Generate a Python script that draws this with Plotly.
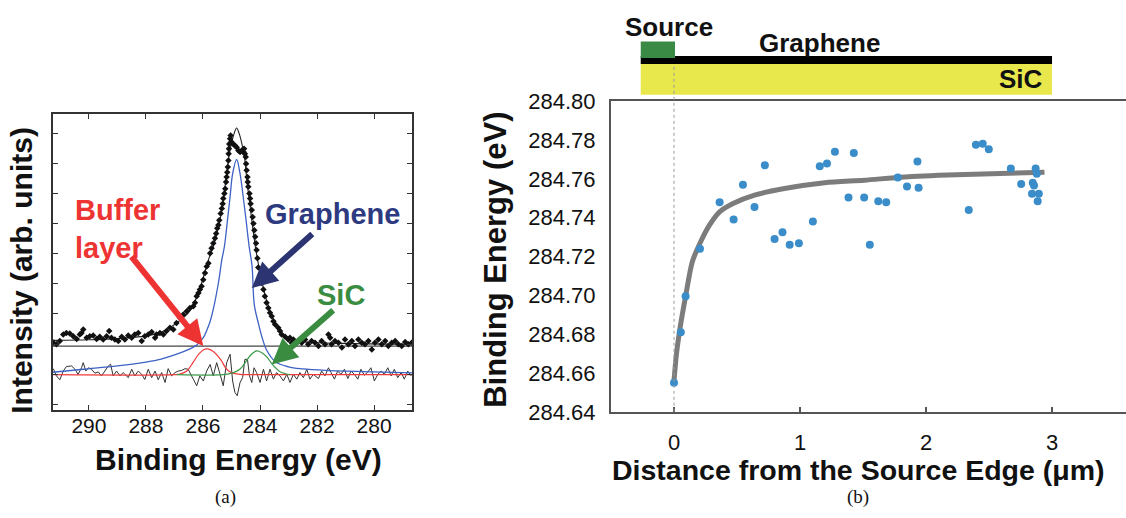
import plotly.graph_objects as go

W, H = 1126, 518

# ---------------- Panel (a): XPS C1s spectrum ----------------
spec_be = [291.25, 291.14, 291.02, 290.90, 290.79, 290.67, 290.55, 290.43, 290.32, 290.26, 290.20, 290.08,
           289.97, 289.85, 289.73, 289.62, 289.50, 289.38, 289.29, 289.21, 289.09, 288.97, 288.85, 288.74,
           288.62, 288.50, 288.39, 288.27, 288.15, 288.04, 287.92, 287.80, 287.68, 287.63, 287.51,
           287.39, 287.28, 287.16, 287.04, 286.93, 286.81, 286.69, 286.57, 286.46, 286.34, 286.28, 286.22,
           286.16, 286.11, 286.05, 285.99, 285.93, 285.87, 285.81,
           285.75, 285.70, 285.64, 285.58, 285.54, 285.50, 285.46, 285.43, 285.38, 285.34, 285.31, 285.29,
           285.25, 285.22, 285.19, 285.17, 285.15, 285.13, 285.11, 285.10, 285.09, 285.08, 285.05, 285.03,
           285.00, 284.94, 284.88, 284.82, 284.76, 284.70, 284.64, 284.58, 284.56, 284.53, 284.50, 284.49,
           284.47, 284.44, 284.43, 284.41, 284.37, 284.35, 284.33, 284.29, 284.26, 284.23, 284.20, 284.17,
           284.14, 284.12, 284.09, 284.06,
           284.00, 283.94, 283.88, 283.83, 283.77, 283.71, 283.65, 283.59, 283.53, 283.47, 283.36, 283.30,
           283.24, 283.12, 283.01,
           282.95, 282.89, 282.83, 282.77, 282.66, 282.54, 282.42, 282.31, 282.19, 282.07, 281.95, 281.84,
           281.72, 281.60, 281.54, 281.49, 281.37, 281.25, 281.13, 281.02, 280.90, 280.78, 280.67, 280.55,
           280.43, 280.32, 280.20, 280.08, 279.97, 279.85, 279.73, 279.61, 279.50, 279.38, 279.26, 279.15,
           279.03, 278.91, 278.80, 278.68]
spec_int = [2.04, 1.99, 2.10, 2.32, 2.37, 2.35, 2.26, 2.17, 2.32, 2.37, 2.48, 2.21,
            2.26, 2.28, 2.17, 2.24, 2.15, 2.26, 2.43, 2.21, 2.15, 2.10, 2.24, 2.15,
            2.28, 2.21, 2.32, 2.37, 2.10, 2.26, 2.32, 2.40, 2.21, 2.32, 2.37,
            2.32, 2.43, 2.54, 2.48, 2.70, 2.87, 2.98, 3.09, 3.20, 3.26, 3.37, 3.59,
            3.70, 3.81, 3.92, 4.14, 4.36, 4.58, 4.69,
            5.02, 5.19, 5.35, 5.52, 5.68, 5.85, 5.96, 6.12, 6.34, 6.51, 6.67, 6.84,
            7.01, 7.17, 7.39, 7.56, 7.72, 7.89, 8.11, 8.33, 8.50, 8.66, 8.83, 8.94,
            8.72, 8.66, 8.61, 8.55, 8.44, 8.39, 8.44, 8.39, 8.50, 8.33, 8.22, 8.00,
            7.78, 7.56, 7.39, 7.23, 7.01, 6.84, 6.67, 6.46, 6.23, 6.01, 5.79, 5.57,
            5.35, 5.13, 4.85, 4.55,
            4.25, 4.03, 3.81, 3.59, 3.37, 3.20, 3.04, 2.92, 2.76, 2.65, 2.54, 2.43,
            2.32, 2.24, 2.15,
            2.21, 2.04, 2.15, 1.99, 2.10, 2.04, 2.15, 1.99, 2.10, 2.04, 1.93, 2.10,
            1.99, 2.32, 2.21, 1.99, 2.10, 2.04, 1.88, 2.15, 1.99, 2.10, 1.93, 2.15,
            2.04, 1.99, 2.10, 1.82, 2.04, 2.15, 1.99, 2.10, 1.93, 2.04, 2.10, 1.99,
            1.93, 2.07, 1.99, 2.04]

env_be = [291.26, 290.0, 289.0, 288.0, 287.5, 286.92, 286.46, 286.11, 285.81, 285.64, 285.46, 285.34,
          285.23, 285.11, 285.03, 284.91, 284.82, 284.73, 284.61, 284.53, 284.45, 284.35, 284.26, 284.14,
          283.95, 283.77, 283.59, 283.30, 282.95, 282.3, 281.13, 278.67]
env_int = [2.12, 2.14, 2.18, 2.27, 2.38, 2.70, 3.10, 3.85, 4.80, 5.24, 5.90, 6.46,
           7.23, 8.11, 8.55, 9.00, 9.19, 9.00, 8.55, 8.11, 7.34, 6.60, 5.90, 5.10,
           4.15, 3.45, 2.95, 2.40, 2.15, 2.06, 2.02, 1.99]

gr_be = [291.26, 290.2, 289.0, 288.0, 287.5, 286.92, 286.5, 286.22, 285.99, 285.87, 285.75, 285.64,
         285.46, 285.34, 285.25, 285.14, 285.05, 284.96, 284.82, 284.70, 284.59, 284.49, 284.38, 284.28,
         284.2, 284.06, 283.94, 283.77, 283.47, 283.0, 282.5, 281.7, 280.0, 278.67]
gr_int = [1.06, 1.16, 1.27, 1.40, 1.49, 1.66, 1.82, 1.97, 2.21, 2.45, 2.75, 3.15,
          4.03, 4.80, 5.24, 6.13, 6.90, 7.67, 8.14, 7.67, 6.90, 6.13, 5.24, 4.60,
          3.30, 2.70, 2.26, 1.80, 1.42, 1.24, 1.17, 1.12, 1.07, 1.04]

buf_be = [291.26, 287.0, 286.81, 286.57, 286.34, 286.15, 285.98, 285.83, 285.65, 285.46, 285.33, 285.23,
          285.10, 284.99, 284.70, 284.40, 278.67]
buf_int = [0.98, 0.98, 1.00, 1.10, 1.40, 1.66, 1.81, 1.84, 1.76, 1.58, 1.41, 1.24,
           1.10, 1.04, 0.99, 0.98, 0.98]

sic_be = [286.92, 285.3, 284.99, 284.85, 284.70, 284.58, 284.47, 284.30, 284.12, 283.95, 283.77, 283.60,
          283.47, 283.30, 283.10, 282.95]
sic_int = [0.98, 0.98, 1.03, 1.08, 1.17, 1.30, 1.45, 1.66, 1.77, 1.72, 1.58, 1.36,
           1.22, 1.08, 1.01, 0.98]

res_be = [291.25, 291.14, 291.02, 290.90, 290.79, 290.61, 290.49, 290.38, 290.26, 290.20, 290.11, 290.02,
          289.91, 289.79, 289.67, 289.56, 289.44, 289.32, 289.24, 289.15, 289.03, 288.91, 288.80, 288.62,
          288.50, 288.39, 288.27, 288.15, 288.04, 287.92, 287.80, 287.68, 287.57, 287.45, 287.33, 287.22,
          287.10, 286.98, 286.87, 286.75, 286.63, 286.52, 286.34, 286.22, 286.11, 285.99, 285.87, 285.75,
          285.64, 285.52, 285.40, 285.29, 285.17, 285.05, 284.96, 284.88, 284.80, 284.70, 284.61, 284.53,
          284.44, 284.37, 284.29, 284.21, 284.12, 284.00, 283.88, 283.77, 283.65, 283.53, 283.42, 283.30,
          283.18, 283.06, 282.95, 282.83, 282.71, 282.60, 282.48, 282.36, 282.25, 282.13, 281.95, 281.84,
          281.72, 281.60, 281.51, 281.39, 281.28, 281.16, 281.04, 280.92, 280.81, 280.69, 280.57, 280.46,
          280.34, 280.22, 280.11, 279.99, 279.87, 279.75, 279.64, 279.52, 279.40, 279.29, 279.17, 279.05,
          278.94, 278.82, 278.70]
res_int = [1.18, 0.94, 0.81, 1.10, 1.25, 1.27, 1.16, 0.99, 1.21, 1.38, 1.10, 1.21,
           1.16, 1.03, 1.07, 0.94, 1.10, 1.27, 1.33, 0.94, 1.10, 0.94, 1.05, 0.88,
           1.16, 0.94, 1.10, 0.99, 0.82, 1.16, 0.88, 1.10, 0.81, 1.05, 0.72, 1.18,
           0.94, 1.05, 1.10, 1.12, 1.18, 1.16, 0.83, 0.61, 0.94, 0.77, 1.10, 1.32,
           0.94, 1.38, 0.99, 0.61, 1.38, 1.66, 0.77, 0.39, 0.28, 0.72, 0.88, 1.49,
           1.49, 0.94, 0.72, 1.21, 1.05, 0.72, 1.16, 0.77, 1.16, 0.83, 1.05, 0.94,
           0.77, 0.99, 0.72, 0.99, 0.83, 1.05, 0.88, 1.16, 0.83, 0.99, 0.85, 1.10,
           0.94, 1.21, 1.05, 0.83, 1.10, 0.99, 1.16, 0.85, 1.10, 0.99, 0.83, 1.16,
           0.96, 1.07, 1.21, 0.77, 0.99, 1.10, 0.99, 1.21, 0.94, 1.16, 0.88, 1.05,
           0.83, 1.10, 0.94]

base_be = [291.26, 278.67]
base_int = [1.93, 1.93]

xa_ticks = [290, 288, 286, 284, 282, 280]
ya_ticks = [0, 1, 2, 3, 4, 5, 6, 7, 8, 9]

# ---------------- Panel (b): binding energy vs distance ----------------
dist_um = [0.0, 0.054, 0.092, 0.206, 0.362, 0.473, 0.547, 0.639, 0.721, 0.798, 0.861, 0.918, 0.991,
           1.102, 1.157, 1.214, 1.277, 1.385, 1.427, 1.509, 1.554, 1.621, 1.684, 1.776, 1.849, 1.932,
           1.941, 2.339, 2.396, 2.450, 2.498, 2.673, 2.755, 2.847, 2.857, 2.841, 2.870, 2.879, 2.895,
           2.886]
be_ev = [284.655, 284.681, 284.6995, 284.724, 284.748, 284.739, 284.757, 284.7455, 284.767, 284.729,
         284.7325, 284.726, 284.7268, 284.738, 284.7665, 284.7679, 284.774, 284.7504, 284.7733, 284.7504,
         284.726, 284.7485, 284.748, 284.7607, 284.756, 284.769, 284.7554, 284.744, 284.7776, 284.7781,
         284.7752, 284.7653, 284.7573, 284.758, 284.7566, 284.7523, 284.7653, 284.7626, 284.7523,
         284.7485]

fit_x = [0.0, 0.02, 0.05, 0.092, 0.146, 0.206, 0.28, 0.362, 0.473, 0.639, 0.877, 1.195, 1.51, 1.83,
         2.31, 2.94]
fit_y = [284.656, 284.670, 284.684, 284.6995, 284.7174, 284.7268, 284.736, 284.743, 284.7474,
         284.7516, 284.755, 284.758, 284.7593, 284.761, 284.7622, 284.7634]

xb_ticks = [0, 1, 2, 3]
yb_ticks = [284.64, 284.66, 284.68, 284.70, 284.72, 284.74, 284.76, 284.78, 284.80]

layer_x = [-0.264, 3.0]
source_x = [-0.264, 0.008]

# vertical compensation for the page photograph
SY, OY = 0.956, 11.1


def Y(py):
    return (py - OY) / SY


def PY(py):
    return 1 - Y(py) / H


FONT = "Arial, Liberation Sans, sans-serif"

fig = go.Figure()
fig.add_trace(go.Scatter(x=base_be, y=base_int, mode="lines", line=dict(color="#444444", width=1.4),
                         xaxis="x", yaxis="y"))
fig.add_trace(go.Scatter(x=res_be, y=res_int, mode="lines", line=dict(color="#333333", width=1),
                         xaxis="x", yaxis="y"))
fig.add_trace(go.Scatter(x=buf_be, y=buf_int, mode="lines", line=dict(color="#F03A3A", width=1.2, shape="spline"),
                         xaxis="x", yaxis="y"))
fig.add_trace(go.Scatter(x=sic_be, y=sic_int, mode="lines", line=dict(color="#3A9A48", width=1.2, shape="spline"),
                         xaxis="x", yaxis="y"))
fig.add_trace(go.Scatter(x=gr_be, y=gr_int, mode="lines", line=dict(color="#3D62C4", width=1.3, shape="spline"),
                         xaxis="x", yaxis="y"))
fig.add_trace(go.Scatter(x=env_be, y=env_int, mode="lines", line=dict(color="#222222", width=1.1, shape="spline"),
                         xaxis="x", yaxis="y"))
fig.add_trace(go.Scatter(x=spec_be, y=spec_int, mode="markers",
                         marker=dict(symbol="diamond", size=5, color="#111111"),
                         xaxis="x", yaxis="y"))

fig.add_trace(go.Scatter(x=fit_x, y=fit_y, mode="lines",
                         line=dict(color="rgba(110,110,110,0.9)", width=5, shape="spline", smoothing=0.8),
                         xaxis="x2", yaxis="y2"))
fig.add_trace(go.Scatter(x=dist_um, y=be_ev, mode="markers",
                         marker=dict(size=8, color="#3A8DC9"),
                         xaxis="x2", yaxis="y2"))

ydom_a = [PY(411), PY(114)]
ydom_b = [PY(412.7), PY(100.7)]

fig.update_layout(
    width=W, height=H, margin=dict(l=0, r=0, t=0, b=0),
    paper_bgcolor="white", plot_bgcolor="white", showlegend=False,
    font=dict(family=FONT, color="#111111"),
    xaxis=dict(domain=[53 / W, 412 / W], range=[291.26, 278.67], tickvals=xa_ticks,
               ticks="inside", ticklen=5, tickwidth=1, tickcolor="#333", mirror="ticks",
               showline=True, linecolor="#333", linewidth=1.5, showgrid=False, zeroline=False,
               tickfont=dict(size=21, family=FONT, color="#111"), ticklabelstandoff=-4, anchor="y"),
    yaxis=dict(domain=ydom_a, range=[-0.2, 9.64], tickvals=ya_ticks, showticklabels=False,
               ticks="inside", ticklen=5, tickwidth=1, tickcolor="#333", mirror="ticks",
               showline=True, linecolor="#333", linewidth=1.5, showgrid=False, zeroline=False, anchor="x"),
    xaxis2=dict(domain=[611 / W, 1.0], range=[-0.5, 3.587], tickvals=xb_ticks,
                ticks="inside", ticklen=5, tickwidth=1.5, tickcolor="#555", mirror=True,
                showline=True, linecolor="#555", linewidth=2, showgrid=False, zeroline=False,
                tickfont=dict(size=22, family=FONT, color="#111"), ticklabelstandoff=10, anchor="y2"),
    yaxis2=dict(domain=ydom_b, range=[284.64, 284.80], tickvals=yb_ticks,
                ticktext=["%.2f" % v for v in yb_ticks], ticks="", showline=True,
                linecolor="#555", linewidth=2, showgrid=False, zeroline=False,
                tickfont=dict(size=22, family=FONT, color="#111"), ticklabelstandoff=9, anchor="x2"),
)

shapes = [
    dict(type="rect", xref="x2", yref="paper", x0=layer_x[0], x1=layer_x[1],
         y0=PY(94.3), y1=PY(63.3), fillcolor="#E8E84C", line=dict(width=0), layer="above"),
    dict(type="rect", xref="x2", yref="paper", x0=layer_x[0], x1=layer_x[1],
         y0=PY(63.3), y1=PY(55.3), fillcolor="#000000", line=dict(width=0), layer="above"),
    dict(type="rect", xref="x2", yref="paper", x0=source_x[0], x1=source_x[1],
         y0=PY(57.3), y1=PY(40.7), fillcolor="#3A8A46", line=dict(width=0), layer="above"),
    dict(type="line", xref="x2", yref="paper", x0=0, x1=0, y0=ydom_b[0], y1=PY(63.3),
         line=dict(color="#9a9a9a", width=1, dash="dot"), layer="above"),
]
fig.update_layout(shapes=shapes)

ann = []


def text(px, py, s, size, color="#111111", bold=True, angle=0, family=FONT, align="center", xanchor="center"):
    ann.append(dict(x=px / W, y=PY(py), xref="paper", yref="paper", text=("<b>%s</b>" % s) if bold else s,
                    showarrow=False, textangle=angle, xanchor=xanchor, yanchor="middle", align=align,
                    font=dict(size=size, color=color, family=family)))


SERIF = "Liberation Serif, Times New Roman, serif"
text(22, 271, "Intensity (arb. units)", 30, angle=-90)
text(238, 461, "Binding Energy (eV)", 30)
text(225, 498, "(a)", 19, bold=False, family=SERIF)
text(496, 260, "Binding Energy (eV)", 31, angle=-90)
text(858, 471, "Distance from the Source Edge (μm)", 28.5)
text(858, 498, "(b)", 19, bold=False, family=SERIF)
text(669, 26, "Source", 26)
text(819, 42, "Graphene", 26)
text(1021, 78, "SiC", 26)

text(73, 229, "Buffer<br>layer", 29, color="#EE3333", align="left", xanchor="left")
text(333, 214, "Graphene", 29, color="#2E3A80")
text(341, 295, "SiC", 29, color="#3A8C40")

arrows = [
    (285.99, 1.93, -73, -87, "#EE3333"),
    (284.29, 3.86, 62, -53, "#2C3472"),
    (283.59, 1.32, 63, -53, "#3A8C40"),
]
for x, y, axp, ayp, col in arrows:
    ann.append(dict(x=x, y=y, xref="x", yref="y", ax=axp, ay=ayp / SY, text="", showarrow=True,
                    arrowhead=2, arrowsize=0.85, arrowwidth=6, arrowcolor=col, standoff=0))

fig.update_layout(annotations=ann)

fig.write_html("out.html")
